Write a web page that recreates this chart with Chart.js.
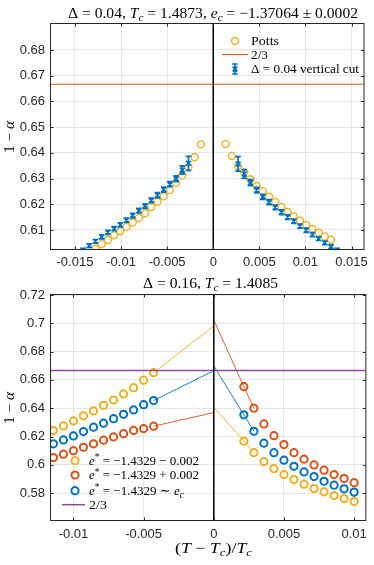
<!DOCTYPE html>
<html>
<head>
<meta charset="utf-8">
<script src="https://cdn.jsdelivr.net/npm/chart.js@4.4.0/dist/chart.umd.min.js"></script>
<style>
html, body { margin: 0; padding: 0; background: #fff; }
#wrap { position: relative; width: 374px; height: 565px; }
canvas { position: absolute; left: 0; }
#c1 { top: 0; }
#c2 { top: 268px; }
</style>
</head>
<body>
<div id="wrap">
  <canvas id="c1" width="374" height="268"></canvas>
  <canvas id="c2" width="374" height="297"></canvas>
</div>
<script>
const ORANGE = '#EDB120', RED = '#D95319', BLUE = '#0072BD', PURPLE = '#8E4A9E';
const TWO_THIRDS = 2 / 3;

// top panel: Delta = 0.04
const pottsX = [-0.012775, -0.012103, -0.011430, -0.010758, -0.010085, -0.009413, -0.008741, -0.008068, -0.007396,
  -0.006724, -0.006051, -0.005379, -0.004707, -0.004034, -0.003362, -0.002689, -0.002017, -0.001345,
  0.001345, 0.002017, 0.002689, 0.003362, 0.004034, 0.004707, 0.005379, 0.006051, 0.006724,
  0.007396, 0.008068, 0.008741, 0.009413, 0.010085, 0.010758, 0.011430, 0.012103, 0.012775];
const pottsY = [0.6027, 0.6045, 0.6061, 0.6079, 0.6096, 0.6112, 0.6129, 0.6147, 0.6165,
  0.6189, 0.6210, 0.6231, 0.6255, 0.6284, 0.6313, 0.6344, 0.6383, 0.6433,
  0.6434, 0.6388, 0.6349, 0.6324, 0.6297, 0.6271, 0.6251, 0.6229, 0.6209,
  0.6189, 0.6170, 0.6153, 0.6136, 0.6119, 0.6104, 0.6089, 0.6075, 0.6062];
const cutX = [-0.014120, -0.013447, -0.012775, -0.012103, -0.011430, -0.010758, -0.010085, -0.009413, -0.008741,
  -0.008068, -0.007396, -0.006724, -0.006051, -0.005379, -0.004707, -0.004034, -0.003362, -0.002689,
  0.002689, 0.003362, 0.004034, 0.004707, 0.005379, 0.006051, 0.006724, 0.007396, 0.008068,
  0.008741, 0.009413, 0.010085, 0.010758, 0.011430, 0.012103, 0.012775, 0.013447];
const cutY = [0.6022, 0.6039, 0.6056, 0.6073, 0.6091, 0.6105, 0.6120, 0.6138, 0.6156,
  0.6175, 0.6193, 0.6215, 0.6235, 0.6257, 0.6278, 0.6299, 0.6333, 0.6359,
  0.6357, 0.6318, 0.6284, 0.6255, 0.6229, 0.6208, 0.6188, 0.6169, 0.6150,
  0.6134, 0.6115, 0.6099, 0.6082, 0.6066, 0.6050, 0.6035, 0.6022];
const cutErr = [0.0007, 0.0007, 0.0007, 0.0008, 0.0008, 0.0008, 0.0008, 0.0008, 0.0009,
  0.0009, 0.0009, 0.0009, 0.0010, 0.0010, 0.0010, 0.0011, 0.0016, 0.0027,
  0.0028, 0.0017, 0.0012, 0.0011, 0.0010, 0.0010, 0.0009, 0.0009, 0.0009,
  0.0008, 0.0008, 0.0008, 0.0008, 0.0007, 0.0007, 0.0007, 0.0007];
const topXTicks = [-0.015, -0.01, -0.005, 0, 0.005, 0.01, 0.015];
const topXLabels = ['-0.015', '-0.01', '-0.005', '0', '0.005', '0.01', '0.015'];
const topYTicks = [0.61, 0.62, 0.63, 0.64, 0.65, 0.66, 0.67, 0.68];
const topYLabels = ['0.61', '0.62', '0.63', '0.64', '0.65', '0.66', '0.67', '0.68'];
const topXRange = [-0.0176, 0.0163];
const topYRange = [0.6026, 0.6901];

// bottom panel: Delta = 0.16
const botXLeft = [-0.011429, -0.010714, -0.010000, -0.009286, -0.008571, -0.007857, -0.007143, -0.006429, -0.005714, -0.005000, -0.004286];
const botXRight = [0.002143, 0.002857, 0.003571, 0.004286, 0.005000, 0.005714, 0.006429, 0.007143, 0.007857, 0.008571, 0.009286, 0.010000];
const minusLeft = [0.6242, 0.6275, 0.6310, 0.6346, 0.6381, 0.6421, 0.6458, 0.6501, 0.6545, 0.6598, 0.6651];
const minusRight = [0.6167, 0.6086, 0.6023, 0.5973, 0.5931, 0.5896, 0.5863, 0.5832, 0.5809, 0.5783, 0.5762, 0.5740];
const plusLeft = [0.6051, 0.6075, 0.6100, 0.6124, 0.6148, 0.6174, 0.6197, 0.6220, 0.6243, 0.6256, 0.6273];
const plusRight = [0.6552, 0.6400, 0.6289, 0.6206, 0.6143, 0.6086, 0.6040, 0.5999, 0.5962, 0.5931, 0.5903, 0.5874];
const ecLeft = [0.6148, 0.6176, 0.6204, 0.6235, 0.6266, 0.6294, 0.6326, 0.6357, 0.6388, 0.6425, 0.6454];
const ecRight = [0.6353, 0.6237, 0.6153, 0.6086, 0.6033, 0.5990, 0.5950, 0.5917, 0.5884, 0.5856, 0.5830, 0.5807];
// values of the thin lines at T = Tc, [minus, plus, ec]
const zeroLeft = [0.6981, 0.6369, 0.6665];
const zeroRight = [0.6407, 0.7023, 0.6699];
const botXTicks = [-0.01, -0.005, 0, 0.005, 0.01];
const botXLabels = ['-0.01', '-0.005', '0', '0.005', '0.01'];
const botYTicks = [0.58, 0.6, 0.62, 0.64, 0.66, 0.68, 0.7, 0.72];
const botYLabels = ['0.58', '0.6', '0.62', '0.64', '0.66', '0.68', '0.7', '0.72'];
const botXRange = [-0.0116, 0.0108];
const botYRange = [0.561, 0.72];

function pts(xs, ys) { return xs.map((x, i) => ({ x: x, y: ys[i] })); }

const SERIF = '"Liberation Serif","DejaVu Serif",serif';
// segs: [text, style], style r = roman, i = italic, s = italic subscript, p = superscript
function rich(ctx, segs, x, y, o) {
  const size = o.size || 13;
  const fontOf = st => ((st === 'i' || st === 's') ? 'italic ' : '') + ((st === 's' || st === 'p') ? size * 0.72 : size) + 'px ' + SERIF;
  let w = 0;
  for (const [t, st] of segs) { ctx.font = fontOf(st); w += ctx.measureText(t).width; }
  const k = o.width ? o.width / w : 1;
  ctx.save();
  ctx.translate(x, y);
  if (o.rot) ctx.rotate(o.rot);
  ctx.scale(k, 1);
  ctx.fillStyle = '#000';
  ctx.textBaseline = 'alphabetic';
  ctx.textAlign = 'left';
  let cx = o.align === 'center' ? -w / 2 : 0;
  for (const [t, st] of segs) {
    ctx.font = fontOf(st);
    const dy = st === 's' ? size * 0.2 : st === 'p' ? -size * 0.36 : 0;
    ctx.fillText(t, cx, size * 0.33 + dy);
    cx += ctx.measureText(t).width;
  }
  ctx.restore();
}

function errGlyph(ctx, x, y, yt, yb) {
  ctx.beginPath();
  ctx.moveTo(x, yt); ctx.lineTo(x, yb);
  ctx.moveTo(x - 2.8, yt); ctx.lineTo(x + 2.8, yt);
  ctx.moveTo(x - 2.8, yb); ctx.lineTo(x + 2.8, yb);
  ctx.moveTo(x - 2.4, y - 2.4); ctx.lineTo(x + 2.4, y + 2.4);
  ctx.moveTo(x - 2.4, y + 2.4); ctx.lineTo(x + 2.4, y - 2.4);
  ctx.stroke();
}

const errbars = {
  id: 'errbars',
  afterDatasetsDraw(chart) {
    const { ctx, chartArea: a, scales: { y } } = chart;
    ctx.save();
    ctx.beginPath(); ctx.rect(a.left, a.top, a.right - a.left, a.bottom - a.top); ctx.clip();
    chart.data.datasets.forEach((ds, i) => {
      if (!ds.errs) return;
      ctx.strokeStyle = ds.borderColor; ctx.lineWidth = 1.7;
      chart.getDatasetMeta(i).data.forEach((el, j) => {
        const v = ds.data[j].y, e = ds.errs[j];
        errGlyph(ctx, el.x, el.y, y.getPixelForValue(v + e), y.getPixelForValue(v - e));
      });
    });
    ctx.restore();
  }
};

const frame = {
  id: 'frame',
  afterDatasetsDraw(chart) {
    const { ctx, chartArea: a, scales: { x, y } } = chart;
    const L = a.left - 0.5, R = a.right + 0.5, T = a.top - 0.5, B = a.bottom + 0.5;
    ctx.save();
    ctx.strokeStyle = '#262626'; ctx.lineWidth = 1;
    ctx.strokeRect(L, T, R - L, B - T);
    ctx.beginPath();
    x.ticks.forEach(t => {
      const p = Math.round(x.getPixelForValue(t.value)) + 0.5;
      ctx.moveTo(p, B); ctx.lineTo(p, B - 3); ctx.moveTo(p, T); ctx.lineTo(p, T + 3);
    });
    y.ticks.forEach(t => {
      const p = Math.round(y.getPixelForValue(t.value)) + 0.5;
      ctx.moveTo(L, p); ctx.lineTo(L + 3, p); ctx.moveTo(R, p); ctx.lineTo(R - 3, p);
    });
    ctx.stroke();
    ctx.restore();
  }
};

function axes(xr, yr, xt, xl, yt, yl, xh, xpad) {
  const tickFont = { family: '"Liberation Sans", Arial, sans-serif', size: 13 };
  return {
    x: {
      type: 'linear', min: xr[0], max: xr[1],
      afterBuildTicks: s => { s.ticks = xt.map(v => ({ value: v })); },
      afterFit: s => { s.height = xh; },
      ticks: { callback: (v, i) => xl[i], font: tickFont, color: '#262626', padding: xpad, maxRotation: 0, autoSkip: false },
      grid: { color: '#e6e6e6', drawTicks: false },
      border: { display: false }
    },
    y: {
      type: 'linear', min: yr[0], max: yr[1],
      afterBuildTicks: s => { s.ticks = yt.map(v => ({ value: v })); },
      afterFit: s => { s.width = 51; },
      ticks: { callback: (v, i) => yl[i], font: tickFont, color: '#262626', padding: 6, autoSkip: false },
      grid: { color: '#e6e6e6', drawTicks: false },
      border: { display: false }
    }
  };
}

function baseOptions(pad, scales) {
  return {
    responsive: false, devicePixelRatio: 1, animation: false, events: [],
    layout: { padding: pad },
    plugins: { legend: { display: false }, tooltip: { enabled: false } },
    scales: scales
  };
}

const topDecor = {
  id: 'topDecor',
  afterDraw(chart) {
    const ctx = chart.ctx;
    rich(ctx, [['Δ = 0.04, ', 'r'], ['T', 'i'], ['c', 's'], [' = 1.4873, ', 'r'], ['e', 'i'], ['c', 's'], [' = −1.37064 ± 0.0002', 'r']],
      213, 13, { size: 15, align: 'center', width: 290 });
    rich(ctx, [['1 − ', 'r'], ['α', 'i']], 9, 137, { size: 14.5, align: 'center', rot: -Math.PI / 2, width: 32 });
    ctx.save();
    ctx.strokeStyle = ORANGE; ctx.lineWidth = 1.4;
    ctx.beginPath(); ctx.arc(235, 41, 3.5, 0, Math.PI * 2); ctx.stroke();
    ctx.strokeStyle = RED; ctx.lineWidth = 1;
    ctx.beginPath(); ctx.moveTo(222, 54.5); ctx.lineTo(248, 54.5); ctx.stroke();
    ctx.strokeStyle = BLUE; ctx.lineWidth = 1.7;
    errGlyph(ctx, 235, 69, 64, 74);
    ctx.restore();
    rich(ctx, [['Potts', 'r']], 251, 41, { size: 13.5, width: 28 });
    rich(ctx, [['2/3', 'r']], 251, 55, { size: 13.5, width: 17 });
    rich(ctx, [['Δ = 0.04 vertical cut', 'r']], 251, 69, { size: 13.5, width: 108 });
  }
};

new Chart(document.getElementById('c1'), {
  type: 'scatter',
  data: {
    datasets: [
      { label: 'Potts', data: pts(pottsX, pottsY), borderColor: ORANGE, backgroundColor: 'rgba(0,0,0,0)',
        pointRadius: 3.5, borderWidth: 1.4, order: 4 },
      { label: '2/3', type: 'line', data: [{ x: topXRange[0], y: TWO_THIRDS }, { x: topXRange[1], y: TWO_THIRDS }],
        borderColor: RED, borderWidth: 1, pointRadius: 0, order: 3 },
      { label: 'cut', data: pts(cutX, cutY), errs: cutErr, pointRadius: 0, borderColor: BLUE, order: 2 },
      { label: 'zero', type: 'line', data: [{ x: 0, y: topYRange[0] }, { x: 0, y: topYRange[1] }],
        borderColor: '#000', borderWidth: 1.5, pointRadius: 0, order: 1 }
    ]
  },
  options: baseOptions({ left: 0, right: 4, top: 24, bottom: 0 },
    axes(topXRange, topYRange, topXTicks, topXLabels, topYTicks, topYLabels, 19, 6)),
  plugins: [errbars, frame, topDecor]
});

const botSeries = [
  { color: ORANGE, left: minusLeft, right: minusRight },
  { color: RED, left: plusLeft, right: plusRight },
  { color: BLUE, left: ecLeft, right: ecRight }
];
const botDatasets = [];
botSeries.forEach((s, i) => {
  const base = 10 - i * 3;
  botDatasets.push({ data: pts(botXLeft.concat(botXRight), s.left.concat(s.right)), borderColor: s.color,
    backgroundColor: 'rgba(0,0,0,0)', pointRadius: 3.6, borderWidth: 2, order: base });
  botDatasets.push({ type: 'line', data: [{ x: botXLeft[botXLeft.length - 1], y: s.left[s.left.length - 1] }, { x: 0, y: zeroLeft[i] }],
    borderColor: s.color, borderWidth: 0.9, pointRadius: 0, order: base + 1 });
  botDatasets.push({ type: 'line', data: [{ x: 0, y: zeroRight[i] }, { x: botXRight[0], y: s.right[0] }, { x: botXRight[1], y: s.right[1] }],
    borderColor: s.color, borderWidth: 0.9, pointRadius: 0, order: base + 1 });
});
botDatasets.push({ type: 'line', data: [{ x: botXRange[0], y: TWO_THIRDS }, { x: botXRange[1], y: TWO_THIRDS }],
  borderColor: PURPLE, borderWidth: 1.5, pointRadius: 0, order: 1.5 });
botDatasets.push({ type: 'line', data: [{ x: 0, y: botYRange[0] }, { x: 0, y: botYRange[1] }],
  borderColor: '#000', borderWidth: 1.5, pointRadius: 0, order: 1 });

const botDecor = {
  id: 'botDecor',
  afterDraw(chart) {
    const ctx = chart.ctx;
    rich(ctx, [['Δ = 0.16, ', 'r'], ['T', 'i'], ['c', 's'], [' = 1.4085', 'r']], 210.5, 15, { size: 15, align: 'center', width: 135 });
    rich(ctx, [['1 − ', 'r'], ['α', 'i']], 9, 140, { size: 14.5, align: 'center', rot: -Math.PI / 2, width: 32 });
    rich(ctx, [['(', 'r'], ['T', 'i'], [' − ', 'r'], ['T', 'i'], ['c', 's'], [')/', 'r'], ['T', 'i'], ['c', 's']], 213.5, 280,
      { size: 15, align: 'center', width: 77 });
    const rows = [[ORANGE, 192.7], [RED, 207], [BLUE, 222.7]];
    ctx.save();
    ctx.lineWidth = 2;
    rows.forEach(([c, y]) => { ctx.strokeStyle = c; ctx.beginPath(); ctx.arc(75, y, 3.6, 0, Math.PI * 2); ctx.stroke(); });
    ctx.strokeStyle = PURPLE; ctx.lineWidth = 1.5;
    ctx.beginPath(); ctx.moveTo(62, 236.7); ctx.lineTo(85, 236.7); ctx.stroke();
    ctx.restore();
    rich(ctx, [['e', 'i'], ['*', 'p'], [' = −1.4329 − 0.002', 'r']], 89, 192.7, { size: 13.5, width: 110 });
    rich(ctx, [['e', 'i'], ['*', 'p'], [' = −1.4329 + 0.002', 'r']], 89, 207, { size: 13.5, width: 110 });
    rich(ctx, [['e', 'i'], ['*', 'p'], [' = −1.4329 ∼ ', 'r'], ['e', 'i'], ['c', 's']], 89, 222.7, { size: 13.5, width: 95 });
    rich(ctx, [['2/3', 'r']], 89, 236.7, { size: 13.5, width: 18 });
  }
};

new Chart(document.getElementById('c2'), {
  type: 'scatter',
  data: { datasets: botDatasets },
  options: baseOptions({ left: 0, right: 4, top: 27, bottom: 0 },
    axes(botXRange, botYRange, botXTicks, botXLabels, botYTicks, botYLabels, 45, 7)),
  plugins: [frame, botDecor]
});
</script>
</body>
</html>
